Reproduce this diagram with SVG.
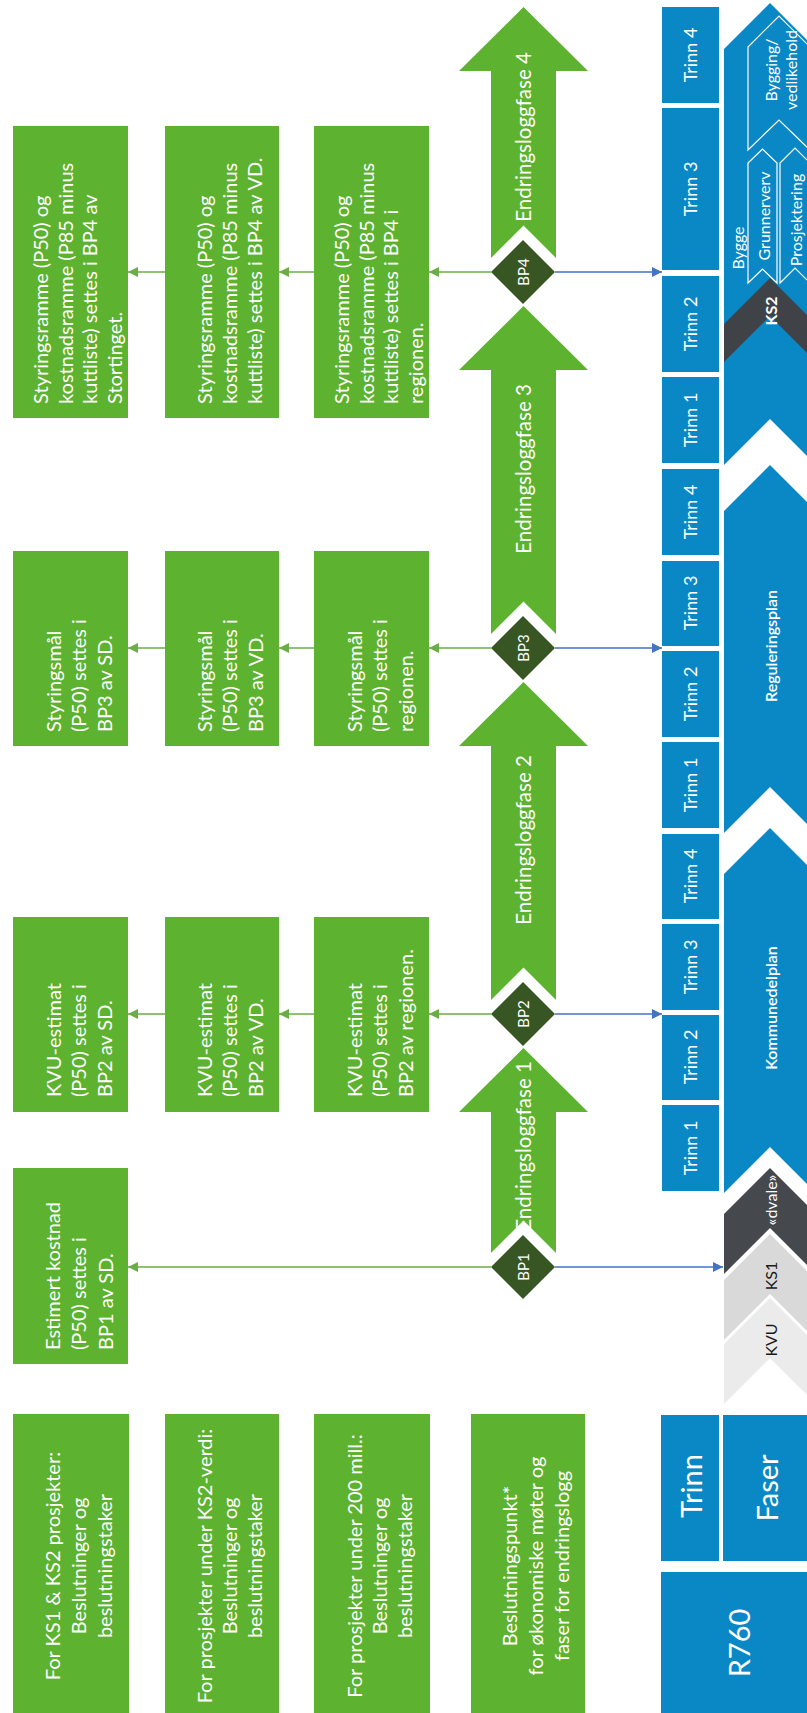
<svg xmlns="http://www.w3.org/2000/svg" width="807" height="1713" viewBox="0 0 807 1713">
<defs>
<style>
text{font-family:Lato,"Open Sans",sans-serif;fill:#fff;}
.bx{fill:#5db22f;}
.bl{fill:#0a88c6;}
.bt{font-size:20px;}
.tr{font-size:18px;text-anchor:middle;dominant-baseline:central;}
.fs{font-size:16px;text-anchor:middle;dominant-baseline:central;}
.hd{font-size:29px;text-anchor:middle;dominant-baseline:central;}
.ar{fill:#5db22f;}
.ef{font-size:20.5px;text-anchor:middle;dominant-baseline:central;}
.dm{fill:#375623;}
.bp{font-size:15px;text-anchor:middle;dominant-baseline:central;}
.gl{stroke:#6aac46;stroke-width:1.5;fill:none;}
.bll{stroke:#4472c4;stroke-width:1.4;fill:none;}
.sub{fill:none;stroke:#fff;stroke-width:1.2;}
</style>
<marker id="ag" viewBox="0 0 10 10" refX="10" refY="5" markerWidth="10" markerHeight="10" markerUnits="userSpaceOnUse" orient="auto"><path d="M0,0 L10,5 L0,10 z" fill="#6aac46"/></marker>
<marker id="ab" viewBox="0 0 10 10" refX="10" refY="5" markerWidth="10" markerHeight="10" markerUnits="userSpaceOnUse" orient="auto"><path d="M0,0 L10,5 L0,10 z" fill="#4472c4"/></marker>
</defs>
<rect width="807" height="1713" fill="#fff"/>

<!-- Header -->
<g id="hdr-trinn"><rect class="bl" x="661" y="1415" width="58" height="146"/><text class="hd" font-size="30" transform="translate(690,1486) rotate(-90)">Trinn</text></g>
<g id="hdr-faser"><rect class="bl" x="723" y="1415" width="84" height="146"/><text class="hd" transform="translate(766,1488) rotate(-90)">Faser</text></g>
<g id="hdr-r760"><rect class="bl" x="661" y="1572" width="146" height="141"/><text class="hd" transform="translate(738,1643) rotate(-90)">R760</text></g>

<!-- Trinn column -->
<g id="trinn">
<rect class="bl" x="662" y="7" width="57" height="96"/><text class="tr" transform="translate(690,55) rotate(-90)">Trinn 4</text>
<rect class="bl" x="662" y="108" width="57" height="162"/><text class="tr" transform="translate(690,189) rotate(-90)">Trinn 3</text>
<rect class="bl" x="662" y="276" width="57" height="96"/><text class="tr" transform="translate(690,324) rotate(-90)">Trinn 2</text>
<rect class="bl" x="662" y="377" width="57" height="86"/><text class="tr" transform="translate(690,420) rotate(-90)">Trinn 1</text>
<rect class="bl" x="662" y="469" width="57" height="86"/><text class="tr" transform="translate(690,512) rotate(-90)">Trinn 4</text>
<rect class="bl" x="662" y="561" width="57" height="85"/><text class="tr" transform="translate(690,603) rotate(-90)">Trinn 3</text>
<rect class="bl" x="662" y="651" width="57" height="86"/><text class="tr" transform="translate(690,694) rotate(-90)">Trinn 2</text>
<rect class="bl" x="662" y="742" width="57" height="86"/><text class="tr" transform="translate(690,785) rotate(-90)">Trinn 1</text>
<rect class="bl" x="662" y="834" width="57" height="85"/><text class="tr" transform="translate(690,876) rotate(-90)">Trinn 4</text>
<rect class="bl" x="662" y="924" width="57" height="86"/><text class="tr" transform="translate(690,967) rotate(-90)">Trinn 3</text>
<rect class="bl" x="662" y="1015" width="57" height="85"/><text class="tr" transform="translate(690,1057) rotate(-90)">Trinn 2</text>
<rect class="bl" x="662" y="1105" width="57" height="86"/><text class="tr" transform="translate(690,1148) rotate(-90)">Trinn 1</text>
</g>

<!-- Faser column -->
<g id="fase-bygge">
<polygon class="bl" points="724,49 770,3 816,49 816,465 770,419 724,465"/>
<polygon fill="#3f4348" points="724,324 770,278 816,324 816,362 770,316 724,362"/>
<text class="fs" font-weight="bold" transform="translate(770,311) rotate(-90)">KS2</text>
<text class="fs" transform="translate(737,248) rotate(-90)">Bygge</text>
<polygon class="sub" points="748,47 779,16 810,47 810,150 779,120 748,150"/>
<polygon class="sub" points="748,163 762.5,149 777,163 777,283 762.5,269 748,283"/>
<polygon class="sub" points="780,163 795,148 810,163 810,283 795,268 780,283"/>
<text class="fs" transform="translate(763,216) rotate(-90)">Grunnerverv</text>
<text class="fs" transform="translate(795,220) rotate(-90)">Prosjektering</text>
<text class="fs" transform="translate(770,70) rotate(-90)">Bygging/</text>
<text class="fs" transform="translate(790,70) rotate(-90)">vedlikehold</text>
</g>
<g id="fase-regulering">
<polygon class="bl" points="724,511 770,465 816,511 816,833 770,787 724,833"/>
<text class="fs" font-size="17" font-weight="600" transform="translate(770,646) rotate(-90)">Reguleringsplan</text>
</g>
<g id="fase-kommunedelplan">
<polygon class="bl" points="724,874 770,828 816,874 816,1193 770,1147 724,1193"/>
<text class="fs" font-size="17" font-weight="600" transform="translate(770,1008) rotate(-90)">Kommunedelplan</text>
</g>
<g id="fase-dvale">
<polygon fill="#45494e" points="724,1214 770,1168 816,1214 816,1274 770,1228 724,1274"/>
<text class="fs" font-size="15" transform="translate(770,1200) rotate(-90)">«dvale»</text>
</g>
<g id="fase-ks1">
<polygon fill="#d9d9d9" points="724,1280 770,1234 816,1280 816,1340 770,1294 724,1340"/>
<text class="fs" style="fill:#1a1a1a" transform="translate(770,1276) rotate(-90)">KS1</text>
</g>
<g id="fase-kvu">
<polygon fill="#ebebeb" points="724,1344 770,1298 816,1344 816,1404 770,1358 724,1404"/>
<text class="fs" style="fill:#1a1a1a" transform="translate(770,1340) rotate(-90)">KVU</text>
</g>

<!-- Endringslogg arrows -->
<g id="fase4"><polygon class="ar" points="523.5,7 588,71 556,71 556,258 523.5,225.5 491,258 491,71 459,71"/><text class="ef" transform="translate(523,137) rotate(-90)">Endringsloggfase 4</text></g>
<g id="fase3"><polygon class="ar" points="523.5,306 588,370 556,370 556,634 523.5,601.5 491,634 491,370 459,370"/><text class="ef" transform="translate(523,469) rotate(-90)">Endringsloggfase 3</text></g>
<g id="fase2"><polygon class="ar" points="523.5,682 588,746 556,746 556,1000 523.5,967.5 491,1000 491,746 459,746"/><text class="ef" transform="translate(523,840) rotate(-90)">Endringsloggfase 2</text></g>
<g id="fase1"><polygon class="ar" points="523.5,1048 588,1112 556,1112 556,1253 523.5,1220.5 491,1253 491,1112 459,1112"/><text class="ef" transform="translate(523,1146) rotate(-90)">Endringsloggfase 1</text></g>

<!-- Diamonds -->
<g id="bp4"><polygon class="dm" points="523,240 555,272 523,304 491,272"/><text class="bp" transform="translate(523,272) rotate(-90)">BP4</text></g>
<g id="bp3"><polygon class="dm" points="523,616 555,648 523,680 491,648"/><text class="bp" transform="translate(523,648) rotate(-90)">BP3</text></g>
<g id="bp2"><polygon class="dm" points="523,982 555,1014 523,1046 491,1014"/><text class="bp" transform="translate(523,1014) rotate(-90)">BP2</text></g>
<g id="bp1"><polygon class="dm" points="523,1235 555,1267 523,1299 491,1267"/><text class="bp" transform="translate(523,1267) rotate(-90)">BP1</text></g>

<!-- Boxes row BP4 -->
<g id="b4-1"><rect class="bx" x="13" y="126" width="115" height="292"/><text class="bt" transform="translate(77,404) rotate(-90)"><tspan x="0" y="-36.75" dominant-baseline="central">Styringsramme (P50) og</tspan><tspan x="0" y="-12.25" dominant-baseline="central">kostnadsramme (P85 minus</tspan><tspan x="0" y="12.25" dominant-baseline="central">kuttliste) settes i BP4 av</tspan><tspan x="0" y="36.75" dominant-baseline="central">Stortinget.</tspan></text></g>
<g id="b4-2"><rect class="bx" x="165" y="126" width="114" height="292"/><text class="bt" transform="translate(229,404) rotate(-90)"><tspan x="0" y="-25" dominant-baseline="central">Styringsramme (P50) og</tspan><tspan x="0" y="0" dominant-baseline="central">kostnadsramme (P85 minus</tspan><tspan x="0" y="25" dominant-baseline="central">kuttliste) settes i BP4 av VD.</tspan></text></g>
<g id="b4-3"><rect class="bx" x="314" y="126" width="115" height="292"/><text class="bt" transform="translate(378,404) rotate(-90)"><tspan x="0" y="-36.75" dominant-baseline="central">Styringsramme (P50) og</tspan><tspan x="0" y="-12.25" dominant-baseline="central">kostnadsramme (P85 minus</tspan><tspan x="0" y="12.25" dominant-baseline="central">kuttliste) settes i BP4 i</tspan><tspan x="0" y="36.75" dominant-baseline="central">regionen.</tspan></text></g>

<!-- Boxes row BP3 -->
<g id="b3-1"><rect class="bx" x="13" y="551" width="115" height="195"/><text class="bt" transform="translate(78,732) rotate(-90)"><tspan x="0" y="-25.5" dominant-baseline="central">Styringsmål</tspan><tspan x="0" y="0" dominant-baseline="central">(P50) settes i</tspan><tspan x="0" y="25.5" dominant-baseline="central">BP3 av SD.</tspan></text></g>
<g id="b3-2"><rect class="bx" x="165" y="551" width="114" height="195"/><text class="bt" transform="translate(229,732) rotate(-90)"><tspan x="0" y="-25.5" dominant-baseline="central">Styringsmål</tspan><tspan x="0" y="0" dominant-baseline="central">(P50) settes i</tspan><tspan x="0" y="25.5" dominant-baseline="central">BP3 av VD.</tspan></text></g>
<g id="b3-3"><rect class="bx" x="314" y="551" width="115" height="195"/><text class="bt" transform="translate(379,732) rotate(-90)"><tspan x="0" y="-25.5" dominant-baseline="central">Styringsmål</tspan><tspan x="0" y="0" dominant-baseline="central">(P50) settes i</tspan><tspan x="0" y="25.5" dominant-baseline="central">regionen.</tspan></text></g>

<!-- Boxes row BP2 -->
<g id="b2-1"><rect class="bx" x="13" y="917" width="115" height="195"/><text class="bt" transform="translate(78,1097) rotate(-90)"><tspan x="0" y="-25.5" dominant-baseline="central">KVU-estimat</tspan><tspan x="0" y="0" dominant-baseline="central">(P50) settes i</tspan><tspan x="0" y="25.5" dominant-baseline="central">BP2 av SD.</tspan></text></g>
<g id="b2-2"><rect class="bx" x="165" y="917" width="114" height="195"/><text class="bt" transform="translate(229,1097) rotate(-90)"><tspan x="0" y="-25.5" dominant-baseline="central">KVU-estimat</tspan><tspan x="0" y="0" dominant-baseline="central">(P50) settes i</tspan><tspan x="0" y="25.5" dominant-baseline="central">BP2 av VD.</tspan></text></g>
<g id="b2-3"><rect class="bx" x="314" y="917" width="115" height="195"/><text class="bt" transform="translate(379,1097) rotate(-90)"><tspan x="0" y="-25.5" dominant-baseline="central">KVU-estimat</tspan><tspan x="0" y="0" dominant-baseline="central">(P50) settes i</tspan><tspan x="0" y="25.5" dominant-baseline="central">BP2 av regionen.</tspan></text></g>

<!-- Box BP1 -->
<g id="b1-1"><rect class="bx" x="13" y="1168" width="115" height="196"/><text class="bt" transform="translate(78,1350) rotate(-90)"><tspan x="0" y="-26.5" dominant-baseline="central">Estimert kostnad</tspan><tspan x="0" y="0" dominant-baseline="central">(P50) settes i</tspan><tspan x="0" y="26.5" dominant-baseline="central">BP1 av SD.</tspan></text></g>

<!-- Legend boxes -->
<g id="leg1"><rect class="bx" x="13" y="1414" width="116" height="299"/><text class="bt" text-anchor="middle" transform="translate(78,1566) rotate(-90)"><tspan x="0" y="-26" dominant-baseline="central">For KS1 &amp; KS2 prosjekter:</tspan><tspan x="0" y="0" dominant-baseline="central">Beslutninger og</tspan><tspan x="0" y="26" dominant-baseline="central">beslutningstaker</tspan></text></g>
<g id="leg2"><rect class="bx" x="165" y="1414" width="114" height="299"/><text class="bt" text-anchor="middle" transform="translate(229,1566) rotate(-90)"><tspan x="0" y="-25" dominant-baseline="central">For prosjekter under KS2-verdi:</tspan><tspan x="0" y="0" dominant-baseline="central">Beslutninger og</tspan><tspan x="0" y="25" dominant-baseline="central">beslutningstaker</tspan></text></g>
<g id="leg3"><rect class="bx" x="314" y="1414" width="116" height="299"/><text class="bt" text-anchor="middle" transform="translate(379,1566) rotate(-90)"><tspan x="0" y="-25" dominant-baseline="central">For prosjekter under 200 mill.:</tspan><tspan x="0" y="0" dominant-baseline="central">Beslutninger og</tspan><tspan x="0" y="25" dominant-baseline="central">beslutningstaker</tspan></text></g>
<g id="leg4"><rect class="bx" x="471" y="1414" width="114" height="299"/><text class="bt" text-anchor="middle" transform="translate(535,1566) rotate(-90)"><tspan x="0" y="-26" dominant-baseline="central">Beslutningspunkt*</tspan><tspan x="0" y="0" dominant-baseline="central">for økonomiske møter og</tspan><tspan x="0" y="26" dominant-baseline="central">faser for endringslogg</tspan></text></g>

<!-- Connectors -->
<g id="connectors">
<line class="gl" x1="491" y1="272" x2="429" y2="272" marker-end="url(#ag)"/>
<line class="gl" x1="314" y1="272" x2="279" y2="272" marker-end="url(#ag)"/>
<line class="gl" x1="165" y1="272" x2="128" y2="272" marker-end="url(#ag)"/>
<line class="gl" x1="491" y1="648" x2="429" y2="648" marker-end="url(#ag)"/>
<line class="gl" x1="314" y1="648" x2="279" y2="648" marker-end="url(#ag)"/>
<line class="gl" x1="165" y1="648" x2="128" y2="648" marker-end="url(#ag)"/>
<line class="gl" x1="491" y1="1014" x2="429" y2="1014" marker-end="url(#ag)"/>
<line class="gl" x1="314" y1="1014" x2="279" y2="1014" marker-end="url(#ag)"/>
<line class="gl" x1="165" y1="1014" x2="128" y2="1014" marker-end="url(#ag)"/>
<line class="gl" x1="491" y1="1267" x2="128" y2="1267" marker-end="url(#ag)"/>
<line class="bll" x1="555" y1="272" x2="662" y2="272" marker-end="url(#ab)"/>
<line class="bll" x1="555" y1="648" x2="662" y2="648" marker-end="url(#ab)"/>
<line class="bll" x1="555" y1="1014" x2="662" y2="1014" marker-end="url(#ab)"/>
<line class="bll" x1="555" y1="1267" x2="723" y2="1267" marker-end="url(#ab)"/>
</g>
</svg>
